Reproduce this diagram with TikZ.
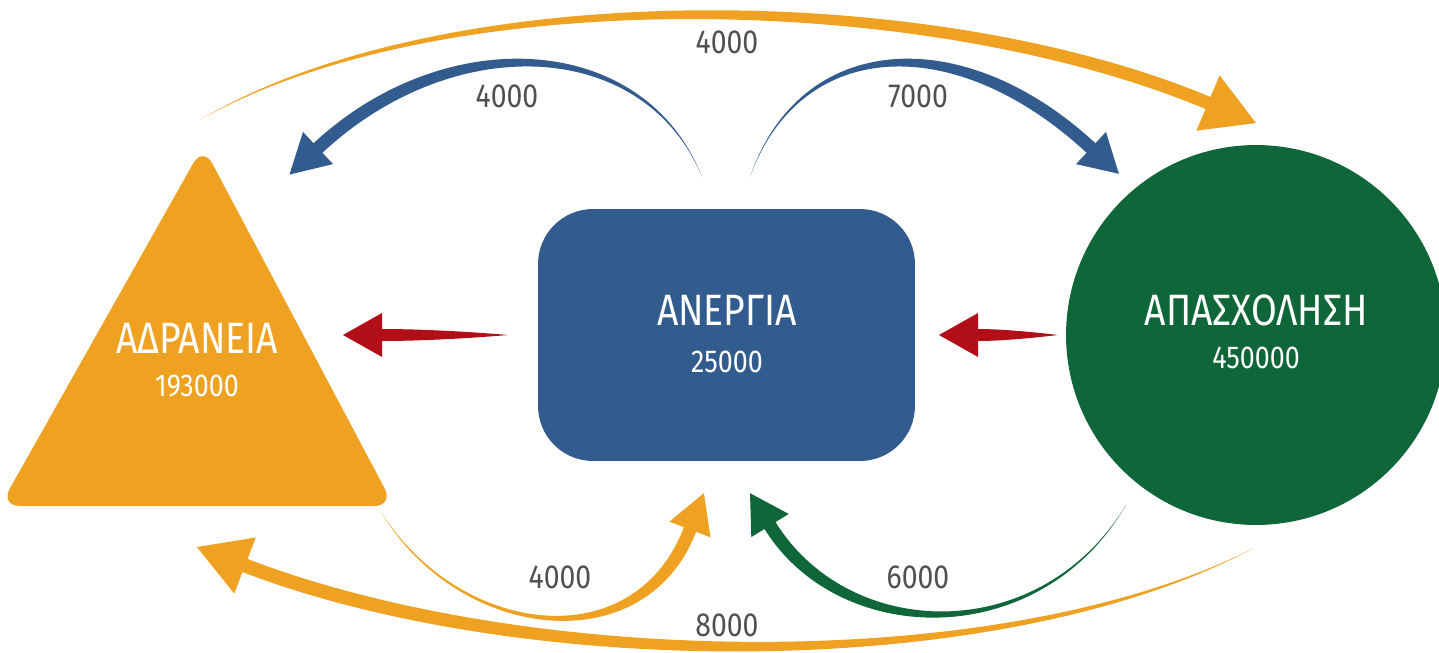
\documentclass[tikz,border=0pt]{standalone}
\usepackage{fontspec}
\setmainfont[FakeStretch=0.85]{Fira Sans}
\usetikzlibrary{calc}
\definecolor{adrorange}{HTML}{EFA221}
\definecolor{anerblue}{HTML}{325B8E}
\definecolor{apasgreen}{HTML}{0F6639}
\definecolor{flowred}{HTML}{B10E18}
\definecolor{numgray}{HTML}{505050}
% tapered flow arrow: colour, start, c1, c2, end, half width, head length, head half width
\newcommand{\flowarrow}[8]{%
\fill[#1] (#2) .. controls ($(#3)!0.55*#6!-90:(#4)$) and ($(#4)!#6!-90:(#5)$) .. ($(#5)!#6!90:(#4)$)
 -- ($(#5)!#8!90:(#4)$) -- ($(#5)!-#7!(#4)$) -- ($(#5)!#8!-90:(#4)$)
 -- ($(#5)!#6!-90:(#4)$) .. controls ($(#4)!#6!90:(#5)$) and ($(#3)!0.55*#6!90:(#4)$) .. (#2) -- cycle;}
\tikzset{
  title/.style={text=white, font=\fontsize{25}{28}\selectfont},
  amount/.style={text=white, font=\fontsize{18}{20}\selectfont},
  flownum/.style={text=numgray, font=\fontsize{19}{22}\selectfont},
}
\begin{document}
\begin{tikzpicture}[x=0.02cm, y=-0.02cm]
\useasboundingbox (0,0) rectangle (1439,652);
% states
\fill[adrorange, rounded corners=0.4cm] (203,146) -- (394,506) -- (0,506) -- cycle;
\node[fill=anerblue, rounded corners=1.1cm, minimum width=7.54cm, minimum height=5.04cm] (aner) at (726.5,335){};
\node[circle, fill=apasgreen, minimum size=7.6cm] (apas) at (1256,335){};
\node[title] (adrT) at (197,338){ΑΔΡΑΝΕΙΑ};
\node[amount] (adrN) at (197,386){193000};
\node[title] (anerT) at (727,310){ΑΝΕΡΓΙΑ};
\node[amount] (anerN) at (727,362){25000};
\node[title] (apasT) at (1256,310){ΑΠΑΣΧΟΛΗΣΗ};
\node[amount] (apasN) at (1256,358){450000};
% flow ends
\coordinate (adrTop) at (200,120);
\coordinate (apasIn) at (1208,103);
\coordinate (anerL) at (702,177);
\coordinate (adrIn) at (318,148);
\coordinate (anerR) at (750,177);
\coordinate (apasIn2) at (1091,148);
\coordinate (redA) at (508,335);
\coordinate (redAe) at (382,335);
\coordinate (redB) at (1058,335);
\coordinate (redBe) at (978,335);
\coordinate (adrBot) at (381,512);
\coordinate (anerIn) at (690,529.5);
\coordinate (apasBot) at (1126,505);
\coordinate (anerIn2) at (770,525.5);
\coordinate (apasLow) at (1254,548);
\coordinate (adrIn2) at (245,565.5);
% flows
\flowarrow{adrorange}{adrTop}{440,-20}{926,-15}{apasIn}{0.13cm}{1.04cm}{0.6cm}
\flowarrow{anerblue}{anerL}{645,35}{450,25}{adrIn}{0.13cm}{0.78cm}{0.44cm}
\flowarrow{anerblue}{anerR}{800,35}{958,25}{apasIn2}{0.13cm}{0.76cm}{0.44cm}
\flowarrow{flowred}{redA}{470,335}{420,335}{redAe}{0.12cm}{0.78cm}{0.44cm}
\flowarrow{flowred}{redB}{1030,335}{1000,335}{redBe}{0.12cm}{0.78cm}{0.44cm}
\flowarrow{adrorange}{adrBot}{460,640}{640,660.5}{anerIn}{0.13cm}{0.78cm}{0.44cm}
\flowarrow{apasgreen}{apasBot}{1040,650}{844,645}{anerIn2}{0.13cm}{0.76cm}{0.44cm}
\flowarrow{adrorange}{apasLow}{1000,680}{525,673}{adrIn2}{0.14cm}{1.03cm}{0.6cm}
% amounts on flows
\node[flownum] (fTop) at (727,42){4000};
\node[flownum] (fAL) at (507,96){4000};
\node[flownum] (fAR) at (918,96){7000};
\node[flownum] (fBL) at (560,577){4000};
\node[flownum] (fBR) at (918,577){6000};
\node[flownum] (fBot) at (727,625){8000};
\end{tikzpicture}
\end{document}
